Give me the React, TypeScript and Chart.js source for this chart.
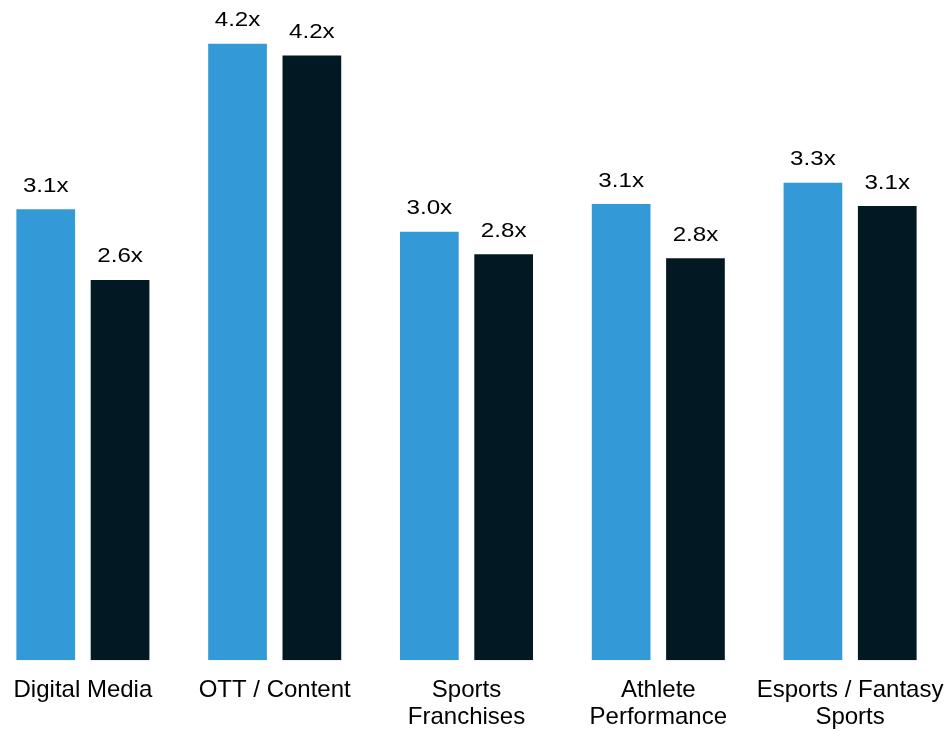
import React, { useEffect, useRef } from "react";
import { Chart, registerables } from "chart.js";

Chart.register(...registerables);

const categories: (string | string[])[] = [
  "Digital Media",
  "OTT / Content",
  ["Sports", "Franchises"],
  ["Athlete", "Performance"],
  ["Esports / Fantasy", "Sports"],
];
const seriesA = [3.083, 4.215, 2.93, 3.119, 3.265];
const seriesB = [2.6, 4.135, 2.775, 2.748, 3.105];
const labelsA = ["3.1x", "4.2x", "3.0x", "3.1x", "3.3x"];
const labelsB = ["2.6x", "4.2x", "2.8x", "2.8x", "3.1x"];

const FONT = '"Liberation Sans", Arial, sans-serif';

const valueLabelPlugin = {
  id: "valueLabels",
  afterDatasetsDraw(chart: any) {
    const ctx = chart.ctx;
    const texts = [labelsA, labelsB];
    chart.data.datasets.forEach((_ds: any, di: number) => {
      const meta = chart.getDatasetMeta(di);
      meta.data.forEach((el: any, i: number) => {
        ctx.save();
        ctx.font = `21px ${FONT}`;
        ctx.fillStyle = "#000000";
        ctx.textAlign = "center";
        ctx.textBaseline = "alphabetic";
        ctx.translate(el.x, el.y - 17.5);
        ctx.scale(1.15, 1);
        ctx.fillText(texts[di][i], 0, 0);
        ctx.restore();
      });
    });
  },
};

export default function App() {
  const ref = useRef<HTMLCanvasElement>(null);
  useEffect(() => {
    if (!ref.current) return;
    const chart = new Chart(ref.current, {
      type: "bar",
      data: {
        labels: categories as any,
        datasets: [
          {
            data: seriesA,
            backgroundColor: "#339ad7",
            categoryPercentage: 0.775,
            barPercentage: 0.79,
          },
          {
            data: seriesB,
            backgroundColor: "#021924",
            categoryPercentage: 0.775,
            barPercentage: 0.79,
          },
        ],
      },
      options: {
        responsive: false,
        animation: false,
        layout: { padding: { top: 2, left: 0, right: 0, bottom: 0 } },
        plugins: {
          legend: { display: false },
          tooltip: { enabled: false },
        },
        scales: {
          x: {
            grid: { display: false, drawTicks: false },
            border: { display: false },
            afterFit: (scale: any) => {
              scale.height = 70.7;
              scale.paddingLeft = 0;
              scale.paddingRight = 0;
            },
            ticks: {
              color: "#000000",
              font: { family: FONT, size: 24, lineHeight: 1.12 },
              padding: 17,
              autoSkip: false,
              maxRotation: 0,
              minRotation: 0,
            },
          },
          y: {
            display: false,
            min: 0,
            max: 4.5,
          },
        },
      },
      plugins: [valueLabelPlugin],
    });
    return () => chart.destroy();
  }, []);
  return (
    <div
      style={{
        position: "fixed",
        left: 0,
        top: 0,
        width: 948,
        height: 731,
        overflow: "hidden",
        background: "#ffffff",
      }}
    >
      <canvas
        ref={ref}
        width={959}
        height={731}
        style={{ position: "absolute", left: -13, top: 0 }}
      />
    </div>
  );
}
